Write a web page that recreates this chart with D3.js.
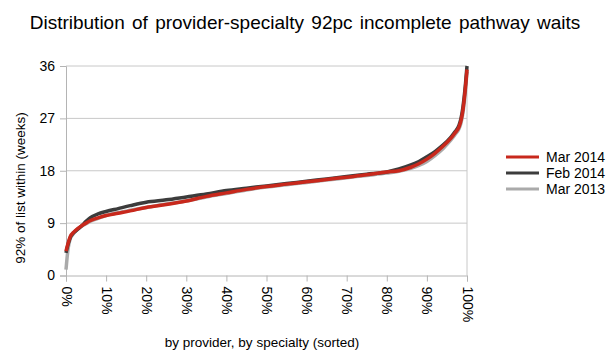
<!DOCTYPE html>
<html>
<head>
<meta charset="utf-8">
<script src="https://cdn.jsdelivr.net/npm/d3@7"></script>
<style>
  body { margin: 0; background: #fff; }
  .chart text { font-family: "Liberation Sans", Arial, sans-serif; fill: #000; }
  .grid line { stroke: #c8c8c8; stroke-width: 1; }
  .axis path, .axis line { stroke: #b4b4b4; stroke-width: 1; }
</style>
</head>
<body>
<div class="chart"></div>
<script>
const positions = [0, 0.5, 1, 2, 3, 4, 5, 6, 8, 10, 13, 16, 20, 25, 30, 35, 40, 45, 50, 55, 60, 65, 70, 75, 80, 83, 86, 88, 90, 92, 94, 96, 97, 98, 98.5, 99, 99.5, 100];
const mar2014 = [4.2, 5.5, 6.6, 7.5, 8.1, 8.6, 9.0, 9.4, 9.9, 10.3, 10.7, 11.1, 11.7, 12.2, 12.8, 13.6, 14.2, 14.8, 15.3, 15.7, 16.1, 16.5, 16.9, 17.3, 17.8, 18.0, 18.6, 19.2, 20.0, 21.0, 22.2, 23.6, 24.5, 25.5, 26.6, 28.5, 31.5, 35.4];
const feb2014 = [3.9, 5.3, 6.4, 7.4, 8.0, 8.6, 9.3, 9.9, 10.6, 11.0, 11.5, 12.0, 12.6, 13.0, 13.5, 14.0, 14.6, 15.0, 15.4, 15.8, 16.2, 16.6, 17.0, 17.4, 17.8, 18.3, 19.0, 19.6, 20.4, 21.3, 22.4, 23.8, 24.7, 25.8, 27.0, 29.0, 32.0, 36.0];
const mar2013 = [1.0, 4.5, 6.2, 7.3, 8.0, 8.5, 8.9, 9.3, 9.8, 10.3, 10.8, 11.2, 11.7, 12.3, 12.8, 13.5, 14.1, 14.7, 15.2, 15.6, 16.0, 16.4, 16.8, 17.2, 17.6, 17.9, 18.4, 18.9, 19.6, 20.6, 21.8, 23.3, 24.2, 25.2, 26.2, 28.0, 31.0, 35.0];
const xTicks = [0, 10, 20, 30, 40, 50, 60, 70, 80, 90, 100];
const yTicks = [0, 9, 18, 27, 36];

const series = [
  { name: "Mar 2013", values: mar2013, color: "#aaaaaa" },
  { name: "Feb 2014", values: feb2014, color: "#3c3c3c" },
  { name: "Mar 2014", values: mar2014, color: "#c8281c" }
];
const legendOrder = ["Mar 2014", "Feb 2014", "Mar 2013"];

const width = 611, height = 354;
const plotLeft = 66, plotRight = 467, plotTop = 66, plotBottom = 275.5;

const svg = d3.select(".chart").append("svg")
  .attr("width", width)
  .attr("height", height);

const x = d3.scaleLinear().domain([0, 100]).range([plotLeft, plotRight]);
const y = d3.scaleLinear().domain([0, 36]).range([plotBottom, plotTop]);

// gridlines
svg.append("g")
  .attr("class", "grid")
  .selectAll("line")
  .data(yTicks.slice(1))
  .enter()
  .append("line")
  .attr("x1", plotLeft).attr("x2", plotRight)
  .attr("y1", d => y(d)).attr("y2", d => y(d));

svg.append("line")
  .attr("x1", plotRight).attr("x2", plotRight)
  .attr("y1", plotTop).attr("y2", plotBottom)
  .attr("stroke", "#c8c8c8");

// y axis
svg.append("g")
  .attr("class", "axis")
  .attr("transform", `translate(${plotLeft},0)`)
  .call(d3.axisLeft(y).tickValues(yTicks).tickSize(6).tickPadding(5))
  .call(g => g.selectAll("text").style("font-size", "14px"));

// x axis
svg.append("g")
  .attr("class", "axis")
  .attr("transform", `translate(0,${plotBottom})`)
  .call(d3.axisBottom(x).tickValues(xTicks).tickSize(6).tickFormat(d => d + "%"))
  .call(g => g.selectAll("text")
    .style("font-size", "14px")
    .attr("text-anchor", "start")
    .attr("transform", "rotate(90)")
    .attr("x", 11)
    .attr("y", 0)
    .attr("dy", "0.35em"));

// lines
const line = d3.line()
  .x((d, i) => x(positions[i]))
  .y(d => y(d))
  .curve(d3.curveMonotoneX);

svg.selectAll(".series")
  .data(series)
  .enter()
  .append("path")
  .attr("class", "series")
  .attr("fill", "none")
  .attr("stroke", d => d.color)
  .attr("stroke-width", 3.5)
  .attr("stroke-linejoin", "round")
  .attr("d", d => line(d.values));

// title and axis labels
svg.append("text")
  .attr("x", 305).attr("y", 29)
  .attr("text-anchor", "middle")
  .style("font-size", "19px")
  .style("word-spacing", "2px")
  .text("Distribution of provider-specialty 92pc incomplete pathway waits");

svg.append("text")
  .attr("transform", "translate(20,188) rotate(-90)")
  .attr("text-anchor", "middle")
  .attr("dy", "0.35em")
  .style("font-size", "13.5px")
  .text("92% of list within (weeks)");

svg.append("text")
  .attr("x", 262).attr("y", 347)
  .attr("text-anchor", "middle")
  .style("font-size", "13.5px")
  .text("by provider, by specialty (sorted)");

// legend
const legend = svg.append("g").attr("transform", "translate(506,157)");
legendOrder.forEach((name, i) => {
  const s = series.find(d => d.name === name);
  legend.append("line")
    .attr("x1", 0).attr("x2", 33)
    .attr("y1", i * 16).attr("y2", i * 16)
    .attr("stroke", s.color)
    .attr("stroke-width", 3);
  legend.append("text")
    .attr("x", 40).attr("y", i * 16)
    .attr("dy", "0.35em")
    .style("font-size", "14px")
    .text(name);
});
</script>
</body>
</html>
